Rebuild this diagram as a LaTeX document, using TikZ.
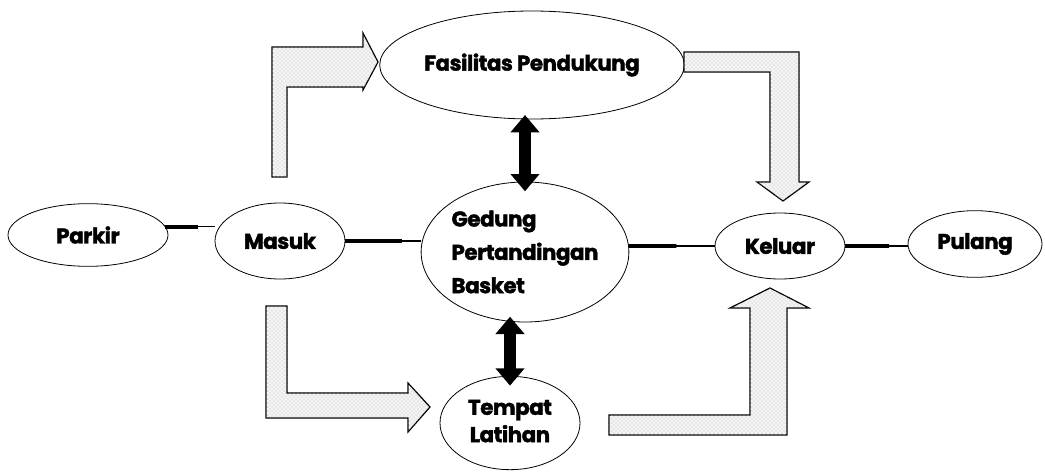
\documentclass[tikz,border=0pt]{standalone}
\usepackage{fontspec}
\setmainfont{Poppins}[BoldFeatures={FakeBold=1.8}, LetterSpace=-2]
\usetikzlibrary{shapes.geometric,arrows.meta,calc,patterns}
\begin{document}
\begin{tikzpicture}[x=0.75pt,y=-0.75pt,
  ell/.style={draw, ellipse, line width=0.6pt, inner sep=0pt, outer sep=0pt,
    font=\bfseries\fontsize{16pt}{25pt}\selectfont, align=center},
  conn/.style={line width=2.8pt},
  connend/.style={line width=0.9pt},
  dbl/.style={line width=9.5pt, {Triangle[length=13pt,width=21pt]}-{Triangle[length=13pt,width=21pt]}},
  blk/.style={draw, line width=0.9pt, line join=miter, fill=gray!8,
    postaction={pattern=crosshatch dots, pattern color=gray!55}}
]
\useasboundingbox (0,0) rectangle (1045,471);

% nodes
\node[ell, minimum width=120pt, minimum height=47pt] (parkir) at (88,235) {Parkir};
\node[ell, minimum width=97.5pt, minimum height=57pt] (masuk) at (280,241) {Masuk};
\node[ell, minimum width=154.5pt, minimum height=105pt, align=left] (ged) at (525,252) {Gedung\\Pertandingan\\Basket};
\node[ell, minimum width=209pt, minimum height=81pt] (fas) at (532,65) {Fasilitas Pendukung};
\node[ell, minimum width=97.5pt, minimum height=49.5pt] (keluar) at (780,246) {Keluar};
\node[ell, minimum width=100.5pt, minimum height=50pt] (pulang) at (975,244) {Pulang};
\node[ell, minimum width=105pt, minimum height=70pt, font=\bfseries\fontsize{16pt}{20.5pt}\selectfont] (tempat) at (510,423) {\raisebox{-5pt}{\begin{tabular}{@{}c@{}}Tempat\\Latihan\end{tabular}}};

% thick connectors
\draw[connend] (parkir.6) -- (parkir.6 -| masuk.west);
\draw[conn] (parkir.6) -- ($(parkir.6)!0.65!(parkir.6 -| masuk.west)$);
\draw[connend] (masuk.east) -- (masuk.east -| ged.west);
\draw[conn] (masuk.east) -- ($(masuk.east)!0.75!(masuk.east -| ged.west)$);
\draw[connend] (ged.east |- keluar.west) -- (keluar.west);
\draw[conn] (ged.east |- keluar.west) -- ($(ged.east |- keluar.west)!0.55!(keluar.west)$);
\draw[connend] (keluar.east) -- (keluar.east -| pulang.west);
\draw[conn] (keluar.east) -- ($(keluar.east)!0.7!(keluar.east -| pulang.west)$);

% double arrows
\draw[dbl, shorten <=-3pt, shorten >=-7pt] (ged.north |- fas.south) -- (ged.north);
\draw[dbl, shorten <=-4pt, shorten >=-7pt] (tempat.north |- ged.south) -- (tempat.north);

% block arrows
\draw[blk] (272,177) -- (272,47) -- (363,47) -- (363,33) -- (378,62) -- (363,90) -- (363,87) -- (287,87) -- (287,177) -- cycle;
\draw[blk] (684,52) -- (799,52) -- (799,182) -- (809,182) -- (783,201) -- (757,182) -- (770,182) -- (770,72) -- (684,72) -- cycle;
\draw[blk] (266,306) -- (287,306) -- (287,393) -- (408,393) -- (408,383) -- (430,407) -- (408,432) -- (408,418) -- (266,418) -- cycle;
\draw[blk] (609,415) -- (750,415) -- (750,308) -- (730,308) -- (770,288) -- (809,308) -- (787,308) -- (787,435) -- (609,435) -- cycle;
\end{tikzpicture}
\end{document}
